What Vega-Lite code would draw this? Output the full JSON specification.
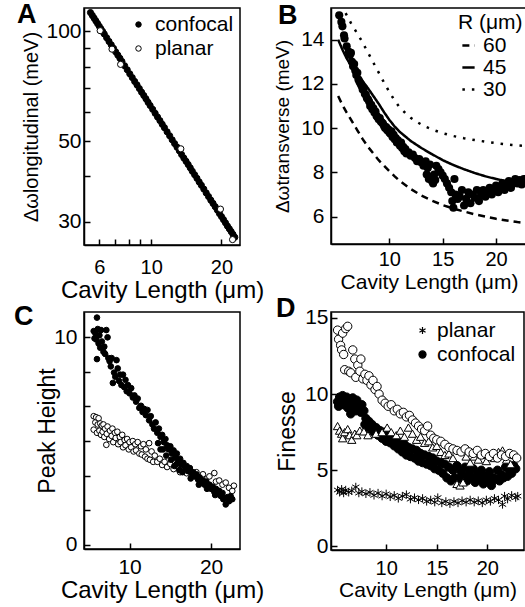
{
"$schema": "https://vega.github.io/schema/vega-lite/v6.json",
"background": "white",
"padding": {"left": 13, "top": 0, "right": 0, "bottom": 0},
"columns": 2,
"spacing": {"column": 91, "row": 67},
"bounds": "flush",
"resolve": {"scale": {"fill": "independent", "shape": "independent", "strokeDash": "independent", "stroke": "independent", "size": "independent", "x": "independent", "y": "independent"}, "legend": {"fill": "independent", "shape": "independent", "strokeDash": "independent", "stroke": "independent", "size": "independent"}},
"config": {
  "font": "Liberation Sans",
  "view": {"stroke": "black", "strokeWidth": 1.5},
  "axis": {"grid": false, "domainColor": "black", "domainWidth": 1.5, "tickColor": "black", "tickWidth": 1.5, "tickSize": -6, "labelFontSize": 21, "labelColor": "black", "titleFontSize": 23, "titleFontWeight": "normal", "titleColor": "black", "labelFlush": false, "labelOverlap": false},
  "legend": {"labelFontSize": 21, "labelColor": "black", "titleFontSize": 21, "titleFontWeight": "normal", "titleColor": "black", "symbolStrokeColor": "black"},
  "title": {"fontSize": 27, "fontWeight": "bold", "color": "black", "anchor": "start", "frame": "group", "baseline": "alphabetic"}
},
"datasets": {
  "A": [
    {"L":5.5,"v":112.7,"s":"confocal"},{"L":5.6,"v":110.7,"s":"confocal"},{"L":5.7,"v":108.8,"s":"confocal"},{"L":5.8,"v":106.9,"s":"confocal"},{"L":5.9,"v":105.1,"s":"confocal"},{"L":6.0,"v":103.3,"s":"confocal"},{"L":6.1,"v":101.6,"s":"confocal"},{"L":6.2,"v":100.0,"s":"confocal"},{"L":6.3,"v":98.4,"s":"confocal"},{"L":6.45,"v":96.1,"s":"confocal"},{"L":6.6,"v":93.9,"s":"confocal"},{"L":6.75,"v":91.9,"s":"confocal"},{"L":6.9,"v":89.9,"s":"confocal"},{"L":7.05,"v":87.9,"s":"confocal"},{"L":7.2,"v":86.1,"s":"confocal"},{"L":7.35,"v":84.4,"s":"confocal"},{"L":7.5,"v":82.7,"s":"confocal"},{"L":7.7,"v":80.5,"s":"confocal"},{"L":7.9,"v":78.5,"s":"confocal"},{"L":8.1,"v":76.5,"s":"confocal"},{"L":8.3,"v":74.7,"s":"confocal"},{"L":8.5,"v":72.9,"s":"confocal"},{"L":8.7,"v":71.3,"s":"confocal"},{"L":8.9,"v":69.7,"s":"confocal"},{"L":9.1,"v":68.1,"s":"confocal"},{"L":9.3,"v":66.7,"s":"confocal"},{"L":9.5,"v":65.3,"s":"confocal"},{"L":9.7,"v":63.9,"s":"confocal"},{"L":9.9,"v":62.6,"s":"confocal"},{"L":10.15,"v":61.1,"s":"confocal"},{"L":10.4,"v":59.6,"s":"confocal"},{"L":10.65,"v":58.2,"s":"confocal"},{"L":10.9,"v":56.9,"s":"confocal"},{"L":11.15,"v":55.6,"s":"confocal"},{"L":11.4,"v":54.4,"s":"confocal"},{"L":11.7,"v":53.0,"s":"confocal"},{"L":12.0,"v":51.7,"s":"confocal"},{"L":12.3,"v":50.4,"s":"confocal"},{"L":12.6,"v":49.2,"s":"confocal"},{"L":12.9,"v":48.1,"s":"confocal"},{"L":13.2,"v":47.0,"s":"confocal"},{"L":13.5,"v":45.9,"s":"confocal"},{"L":13.8,"v":44.9,"s":"confocal"},{"L":14.1,"v":44.0,"s":"confocal"},{"L":14.4,"v":43.1,"s":"confocal"},{"L":14.7,"v":42.2,"s":"confocal"},{"L":15.0,"v":41.3,"s":"confocal"},{"L":15.35,"v":40.4,"s":"confocal"},{"L":15.7,"v":39.5,"s":"confocal"},{"L":16.05,"v":38.6,"s":"confocal"},{"L":16.4,"v":37.8,"s":"confocal"},{"L":16.8,"v":36.9,"s":"confocal"},{"L":17.2,"v":36.0,"s":"confocal"},{"L":17.6,"v":35.2,"s":"confocal"},{"L":18.0,"v":34.4,"s":"confocal"},{"L":18.4,"v":33.7,"s":"confocal"},{"L":18.8,"v":33.0,"s":"confocal"},{"L":19.2,"v":32.3,"s":"confocal"},{"L":19.6,"v":31.6,"s":"confocal"},{"L":20.0,"v":31.0,"s":"confocal"},{"L":20.4,"v":30.4,"s":"confocal"},{"L":20.8,"v":29.8,"s":"confocal"},{"L":21.2,"v":29.2,"s":"confocal"},{"L":21.6,"v":28.7,"s":"confocal"},{"L":22.0,"v":28.2,"s":"confocal"},{"L":22.4,"v":27.7,"s":"confocal"},{"L":22.8,"v":27.2,"s":"confocal"},
    {"L":6.05,"v":100.5,"s":"planar"},{"L":6.8,"v":89.4,"s":"planar"},{"L":7.4,"v":81.2,"s":"planar"},{"L":13.4,"v":47.6,"s":"planar"},{"L":19.8,"v":32.5,"s":"planar"},{"L":22.3,"v":26.8,"s":"planar"}
  ],
  "Bc": [
    {"L":5.9,"v":15.2,"R":"30"},{"L":6.4,"v":14.75,"R":"30"},{"L":6.9,"v":14.35,"R":"30"},{"L":7.4,"v":13.95,"R":"30"},{"L":7.9,"v":13.5,"R":"30"},{"L":8.4,"v":13.05,"R":"30"},{"L":8.9,"v":12.6,"R":"30"},{"L":9.4,"v":12.15,"R":"30"},{"L":9.9,"v":11.72,"R":"30"},{"L":10.4,"v":11.32,"R":"30"},{"L":10.9,"v":10.98,"R":"30"},{"L":11.5,"v":10.68,"R":"30"},{"L":12.0,"v":10.47,"R":"30"},{"L":12.5,"v":10.3,"R":"30"},{"L":13.3,"v":10.08,"R":"30"},{"L":14.1,"v":9.92,"R":"30"},{"L":15.0,"v":9.77,"R":"30"},{"L":16.0,"v":9.64,"R":"30"},{"L":17.0,"v":9.54,"R":"30"},{"L":18.0,"v":9.46,"R":"30"},{"L":19.2,"v":9.37,"R":"30"},{"L":20.3,"v":9.3,"R":"30"},{"L":21.5,"v":9.24,"R":"30"},{"L":22.9,"v":9.18,"R":"30"},
    {"L":5.2,"v":14.0,"R":"45"},{"L":5.6,"v":13.55,"R":"45"},{"L":6.0,"v":13.15,"R":"45"},{"L":6.5,"v":12.75,"R":"45"},{"L":7.0,"v":12.4,"R":"45"},{"L":7.5,"v":12.12,"R":"45"},{"L":8.0,"v":11.8,"R":"45"},{"L":8.5,"v":11.45,"R":"45"},{"L":9.0,"v":11.1,"R":"45"},{"L":9.5,"v":10.72,"R":"45"},{"L":10.0,"v":10.37,"R":"45"},{"L":10.5,"v":10.07,"R":"45"},{"L":11.0,"v":9.82,"R":"45"},{"L":12.0,"v":9.42,"R":"45"},{"L":13.0,"v":9.1,"R":"45"},{"L":14.0,"v":8.82,"R":"45"},{"L":15.0,"v":8.55,"R":"45"},{"L":16.0,"v":8.33,"R":"45"},{"L":17.0,"v":8.14,"R":"45"},{"L":18.0,"v":7.97,"R":"45"},{"L":19.0,"v":7.82,"R":"45"},{"L":20.0,"v":7.7,"R":"45"},{"L":21.0,"v":7.6,"R":"45"},{"L":22.0,"v":7.5,"R":"45"},{"L":22.9,"v":7.42,"R":"45"},
    {"L":5.2,"v":11.45,"R":"60"},{"L":5.6,"v":11.05,"R":"60"},{"L":6.0,"v":10.7,"R":"60"},{"L":6.5,"v":10.3,"R":"60"},{"L":7.0,"v":9.9,"R":"60"},{"L":7.5,"v":9.5,"R":"60"},{"L":8.0,"v":9.15,"R":"60"},{"L":8.5,"v":8.85,"R":"60"},{"L":9.0,"v":8.55,"R":"60"},{"L":9.5,"v":8.3,"R":"60"},{"L":10.0,"v":8.05,"R":"60"},{"L":10.5,"v":7.82,"R":"60"},{"L":11.0,"v":7.6,"R":"60"},{"L":12.0,"v":7.25,"R":"60"},{"L":13.0,"v":6.95,"R":"60"},{"L":14.0,"v":6.72,"R":"60"},{"L":15.0,"v":6.52,"R":"60"},{"L":16.0,"v":6.36,"R":"60"},{"L":17.0,"v":6.23,"R":"60"},{"L":18.0,"v":6.1,"R":"60"},{"L":19.0,"v":6.0,"R":"60"},{"L":20.0,"v":5.9,"R":"60"},{"L":21.0,"v":5.82,"R":"60"},{"L":22.0,"v":5.75,"R":"60"},{"L":22.9,"v":5.7,"R":"60"}
  ],
  "Bp": [
    {"L":5.3,"v":15.1},{"L":5.5,"v":14.8},{"L":5.6,"v":14.6},{"L":5.75,"v":14.2},{"L":5.8,"v":14.05},{"L":6.0,"v":13.7},{"L":6.2,"v":13.45},{"L":6.3,"v":13.3},{"L":6.4,"v":13.4},{"L":6.5,"v":13.0},{"L":6.6,"v":12.8},{"L":6.7,"v":12.9},{"L":6.8,"v":12.6},{"L":6.9,"v":12.4},{"L":7.0,"v":12.5},{"L":7.1,"v":12.2},{"L":7.2,"v":12.1},{"L":7.3,"v":12.0},{"L":7.4,"v":11.9},{"L":7.5,"v":11.75},{"L":7.6,"v":11.8},{"L":7.7,"v":11.55},{"L":7.8,"v":11.5},{"L":7.9,"v":11.35},{"L":8.0,"v":11.3},{"L":8.1,"v":11.2},{"L":8.2,"v":11.0},{"L":8.3,"v":11.05},{"L":8.4,"v":10.85},{"L":8.5,"v":10.9},{"L":8.6,"v":10.7},{"L":8.7,"v":10.75},{"L":8.8,"v":10.55},{"L":8.9,"v":10.5},{"L":9.0,"v":10.4},{"L":9.1,"v":10.45},{"L":9.2,"v":10.3},{"L":9.3,"v":10.25},{"L":9.4,"v":10.2},{"L":9.5,"v":10.1},{"L":9.6,"v":10.0},{"L":9.7,"v":10.05},{"L":9.8,"v":9.9},{"L":9.9,"v":9.95},{"L":10.0,"v":9.8},{"L":10.1,"v":9.75},{"L":10.2,"v":9.85},{"L":10.3,"v":9.6},{"L":10.4,"v":9.7},{"L":10.5,"v":9.5},{"L":10.6,"v":9.55},{"L":10.7,"v":9.35},{"L":10.8,"v":9.45},{"L":10.9,"v":9.3},{"L":11.0,"v":9.2},{"L":11.1,"v":9.35},{"L":11.2,"v":9.1},{"L":11.3,"v":9.15},{"L":11.4,"v":8.95},{"L":11.5,"v":9.05},{"L":11.6,"v":8.85},{"L":11.8,"v":8.9},{"L":12.0,"v":8.75},{"L":12.2,"v":8.8},{"L":12.4,"v":8.65},{"L":12.6,"v":8.5},{"L":12.8,"v":8.6},{"L":13.0,"v":8.45},{"L":13.2,"v":8.3},{"L":13.4,"v":8.5},{"L":13.5,"v":7.9},{"L":13.6,"v":8.2},{"L":13.7,"v":7.7},{"L":13.8,"v":8.35},{"L":13.9,"v":7.8},{"L":14.0,"v":7.6},{"L":14.1,"v":7.5},{"L":14.2,"v":7.9},{"L":14.3,"v":7.65},{"L":14.4,"v":8.3},{"L":14.6,"v":8.15},{"L":14.8,"v":8.0},{"L":15.0,"v":7.85},{"L":15.2,"v":7.7},{"L":15.4,"v":7.5},{"L":15.6,"v":7.3},{"L":15.8,"v":7.1},{"L":15.9,"v":6.7},{"L":16.0,"v":6.4},{"L":16.1,"v":7.7},{"L":16.2,"v":7.0},{"L":16.4,"v":6.8},{"L":16.6,"v":6.9},{"L":16.8,"v":7.2},{"L":17.0,"v":6.5},{"L":17.2,"v":6.8},{"L":17.4,"v":7.1},{"L":17.6,"v":6.6},{"L":17.8,"v":7.0},{"L":18.0,"v":6.85},{"L":18.2,"v":7.2},{"L":18.4,"v":6.7},{"L":18.6,"v":7.0},{"L":18.8,"v":7.2},{"L":19.0,"v":6.9},{"L":19.2,"v":7.1},{"L":19.4,"v":7.3},{"L":19.6,"v":7.0},{"L":19.8,"v":7.2},{"L":20.0,"v":7.4},{"L":20.2,"v":7.1},{"L":20.4,"v":7.3},{"L":20.6,"v":7.5},{"L":20.8,"v":7.2},{"L":21.0,"v":7.4},{"L":21.2,"v":7.6},{"L":21.4,"v":7.3},{"L":21.6,"v":7.5},{"L":21.8,"v":7.7},{"L":22.0,"v":7.5},{"L":22.2,"v":7.65},{"L":22.4,"v":7.45},{"L":22.6,"v":7.7},{"L":22.8,"v":7.55},{"L":23.0,"v":7.6}
  ],
  "C": [
    {"L":5.6,"v":6.2,"s":"planar"},{"L":5.6,"v":5.55,"s":"planar"},{"L":5.8,"v":5.9,"s":"planar"},{"L":5.9,"v":6.15,"s":"planar"},{"L":6.0,"v":5.4,"s":"planar"},{"L":6.1,"v":5.8,"s":"planar"},{"L":6.2,"v":6.1,"s":"planar"},{"L":6.3,"v":5.5,"s":"planar"},{"L":6.4,"v":5.85,"s":"planar"},{"L":6.5,"v":5.3,"s":"planar"},{"L":6.6,"v":5.75,"s":"planar"},{"L":6.7,"v":5.45,"s":"planar"},{"L":6.8,"v":5.8,"s":"planar"},{"L":6.9,"v":5.2,"s":"planar"},{"L":7.0,"v":5.6,"s":"planar"},{"L":7.15,"v":4.82,"s":"planar"},{"L":7.2,"v":5.35,"s":"planar"},{"L":7.3,"v":5.7,"s":"planar"},{"L":7.5,"v":5.1,"s":"planar"},{"L":7.6,"v":5.5,"s":"planar"},{"L":7.8,"v":5.25,"s":"planar"},{"L":7.9,"v":5.6,"s":"planar"},{"L":8.0,"v":4.95,"s":"planar"},{"L":8.2,"v":5.4,"s":"planar"},{"L":8.3,"v":5.15,"s":"planar"},{"L":8.5,"v":5.45,"s":"planar"},{"L":8.6,"v":4.85,"s":"planar"},{"L":8.8,"v":5.2,"s":"planar"},{"L":8.9,"v":4.95,"s":"planar"},{"L":9.1,"v":5.3,"s":"planar"},{"L":9.2,"v":4.7,"s":"planar"},{"L":9.4,"v":5.05,"s":"planar"},{"L":9.5,"v":4.8,"s":"planar"},{"L":9.7,"v":5.1,"s":"planar"},{"L":9.9,"v":4.6,"s":"planar"},{"L":10.0,"v":4.95,"s":"planar"},{"L":10.2,"v":4.7,"s":"planar"},{"L":10.4,"v":5.0,"s":"planar"},{"L":10.5,"v":4.5,"s":"planar"},{"L":10.7,"v":4.85,"s":"planar"},{"L":10.8,"v":4.55,"s":"planar"},{"L":11.0,"v":4.95,"s":"planar"},{"L":11.2,"v":4.4,"s":"planar"},{"L":11.4,"v":4.75,"s":"planar"},{"L":11.5,"v":4.35,"s":"planar"},{"L":11.7,"v":4.85,"s":"planar"},{"L":11.9,"v":4.25,"s":"planar"},{"L":12.0,"v":4.6,"s":"planar"},{"L":12.2,"v":4.15,"s":"planar"},{"L":12.4,"v":4.9,"s":"planar"},{"L":12.5,"v":4.1,"s":"planar"},{"L":12.7,"v":4.5,"s":"planar"},{"L":12.9,"v":4.0,"s":"planar"},{"L":13.1,"v":4.3,"s":"planar"},{"L":13.4,"v":4.0,"s":"planar"},{"L":13.7,"v":4.15,"s":"planar"},{"L":14.0,"v":3.85,"s":"planar"},{"L":14.3,"v":4.0,"s":"planar"},{"L":14.6,"v":3.75,"s":"planar"},{"L":15.0,"v":3.9,"s":"planar"},{"L":15.4,"v":3.65,"s":"planar"},{"L":15.8,"v":3.8,"s":"planar"},{"L":16.2,"v":3.5,"s":"planar"},{"L":16.6,"v":3.7,"s":"planar"},{"L":17.0,"v":3.45,"s":"planar"},{"L":17.4,"v":3.6,"s":"planar"},{"L":17.8,"v":3.35,"s":"planar"},{"L":18.2,"v":3.5,"s":"planar"},{"L":18.6,"v":3.25,"s":"planar"},{"L":19.0,"v":3.4,"s":"planar"},{"L":19.4,"v":3.15,"s":"planar"},{"L":19.8,"v":3.3,"s":"planar"},{"L":20.4,"v":3.46,"s":"planar"},{"L":20.6,"v":3.05,"s":"planar"},{"L":21.0,"v":3.1,"s":"planar"},{"L":21.4,"v":2.9,"s":"planar"},{"L":21.8,"v":3.0,"s":"planar"},{"L":22.2,"v":2.75,"s":"planar"},{"L":22.6,"v":2.6,"s":"planar"},{"L":22.8,"v":2.85,"s":"planar"},
    {"L":5.6,"v":10.3,"s":"confocal"},{"L":5.7,"v":9.95,"s":"confocal"},{"L":5.8,"v":10.2,"s":"confocal"},{"L":5.9,"v":9.9,"s":"confocal"},{"L":6.0,"v":10.95,"s":"confocal"},{"L":6.0,"v":8.95,"s":"confocal"},{"L":6.1,"v":10.4,"s":"confocal"},{"L":6.2,"v":9.7,"s":"confocal"},{"L":6.3,"v":10.1,"s":"confocal"},{"L":6.4,"v":9.5,"s":"confocal"},{"L":6.5,"v":10.35,"s":"confocal"},{"L":6.6,"v":9.8,"s":"confocal"},{"L":6.8,"v":9.3,"s":"confocal"},{"L":6.9,"v":9.55,"s":"confocal"},{"L":7.0,"v":9.2,"s":"confocal"},{"L":7.15,"v":10.35,"s":"confocal"},{"L":7.3,"v":10.0,"s":"confocal"},{"L":7.4,"v":9.0,"s":"confocal"},{"L":7.55,"v":8.85,"s":"confocal"},{"L":7.7,"v":8.6,"s":"confocal"},{"L":7.8,"v":9.0,"s":"confocal"},{"L":7.95,"v":7.8,"s":"confocal"},{"L":8.1,"v":8.3,"s":"confocal"},{"L":8.25,"v":8.1,"s":"confocal"},{"L":8.4,"v":8.9,"s":"confocal"},{"L":8.55,"v":8.5,"s":"confocal"},{"L":8.7,"v":7.9,"s":"confocal"},{"L":8.85,"v":8.2,"s":"confocal"},{"L":9.0,"v":7.7,"s":"confocal"},{"L":9.2,"v":8.2,"s":"confocal"},{"L":9.35,"v":7.6,"s":"confocal"},{"L":9.5,"v":7.95,"s":"confocal"},{"L":9.65,"v":7.4,"s":"confocal"},{"L":9.8,"v":7.7,"s":"confocal"},{"L":10.0,"v":7.3,"s":"confocal"},{"L":10.2,"v":7.55,"s":"confocal"},{"L":10.4,"v":7.1,"s":"confocal"},{"L":10.6,"v":7.2,"s":"confocal"},{"L":10.8,"v":6.9,"s":"confocal"},{"L":11.0,"v":7.05,"s":"confocal"},{"L":11.2,"v":6.6,"s":"confocal"},{"L":11.4,"v":6.7,"s":"confocal"},{"L":11.6,"v":6.4,"s":"confocal"},{"L":11.8,"v":6.55,"s":"confocal"},{"L":12.0,"v":6.25,"s":"confocal"},{"L":12.2,"v":6.5,"s":"confocal"},{"L":12.4,"v":6.0,"s":"confocal"},{"L":12.6,"v":6.2,"s":"confocal"},{"L":12.8,"v":5.8,"s":"confocal"},{"L":13.0,"v":5.6,"s":"confocal"},{"L":13.2,"v":5.9,"s":"confocal"},{"L":13.4,"v":5.4,"s":"confocal"},{"L":13.5,"v":4.9,"s":"confocal"},{"L":13.6,"v":5.6,"s":"confocal"},{"L":13.8,"v":5.2,"s":"confocal"},{"L":13.8,"v":4.6,"s":"confocal"},{"L":14.0,"v":5.3,"s":"confocal"},{"L":14.1,"v":4.6,"s":"confocal"},{"L":14.2,"v":4.95,"s":"confocal"},{"L":14.4,"v":5.1,"s":"confocal"},{"L":14.5,"v":4.3,"s":"confocal"},{"L":14.6,"v":4.8,"s":"confocal"},{"L":14.8,"v":4.6,"s":"confocal"},{"L":15.0,"v":4.75,"s":"confocal"},{"L":15.1,"v":4.1,"s":"confocal"},{"L":15.2,"v":4.4,"s":"confocal"},{"L":15.4,"v":4.55,"s":"confocal"},{"L":15.5,"v":3.8,"s":"confocal"},{"L":15.6,"v":4.2,"s":"confocal"},{"L":15.8,"v":4.4,"s":"confocal"},{"L":15.8,"v":3.9,"s":"confocal"},{"L":16.0,"v":4.0,"s":"confocal"},{"L":16.1,"v":3.6,"s":"confocal"},{"L":16.2,"v":4.15,"s":"confocal"},{"L":16.4,"v":3.85,"s":"confocal"},{"L":16.5,"v":3.5,"s":"confocal"},{"L":16.6,"v":3.95,"s":"confocal"},{"L":16.8,"v":3.7,"s":"confocal"},{"L":17.0,"v":3.8,"s":"confocal"},{"L":17.2,"v":3.55,"s":"confocal"},{"L":17.4,"v":3.7,"s":"confocal"},{"L":17.5,"v":3.2,"s":"confocal"},{"L":17.6,"v":3.45,"s":"confocal"},{"L":17.8,"v":3.5,"s":"confocal"},{"L":18.0,"v":3.3,"s":"confocal"},{"L":18.2,"v":3.4,"s":"confocal"},{"L":18.4,"v":3.15,"s":"confocal"},{"L":18.5,"v":2.9,"s":"confocal"},{"L":18.6,"v":3.25,"s":"confocal"},{"L":18.8,"v":3.0,"s":"confocal"},{"L":19.0,"v":3.1,"s":"confocal"},{"L":19.2,"v":2.9,"s":"confocal"},{"L":19.4,"v":3.05,"s":"confocal"},{"L":19.5,"v":2.7,"s":"confocal"},{"L":19.6,"v":2.75,"s":"confocal"},{"L":19.8,"v":2.9,"s":"confocal"},{"L":20.0,"v":2.7,"s":"confocal"},{"L":20.2,"v":2.8,"s":"confocal"},{"L":20.4,"v":2.55,"s":"confocal"},{"L":20.5,"v":2.4,"s":"confocal"},{"L":20.6,"v":2.7,"s":"confocal"},{"L":20.8,"v":2.45,"s":"confocal"},{"L":21.0,"v":2.6,"s":"confocal"},{"L":21.2,"v":2.35,"s":"confocal"},{"L":21.4,"v":2.5,"s":"confocal"},{"L":21.5,"v":2.2,"s":"confocal"},{"L":21.6,"v":2.25,"s":"confocal"},{"L":21.8,"v":1.95,"s":"confocal"},{"L":22.0,"v":2.3,"s":"confocal"},{"L":22.2,"v":2.1,"s":"confocal"},{"L":22.4,"v":2.35,"s":"confocal"},{"L":22.6,"v":2.2,"s":"confocal"}
  ],
  "D": [
    {"L":5.2,"v":9.5,"s":"confocal"},{"L":5.3,"v":9.2,"s":"confocal"},{"L":5.4,"v":9.8,"s":"confocal"},{"L":5.5,"v":9.4,"s":"confocal"},{"L":5.7,"v":9.9,"s":"confocal"},{"L":5.8,"v":9.3,"s":"confocal"},{"L":5.9,"v":9.6,"s":"confocal"},{"L":6.1,"v":9.8,"s":"confocal"},{"L":6.2,"v":9.1,"s":"confocal"},{"L":6.3,"v":9.5,"s":"confocal"},{"L":6.5,"v":8.7,"s":"confocal"},{"L":6.6,"v":9.0,"s":"confocal"},{"L":6.7,"v":9.75,"s":"confocal"},{"L":6.8,"v":9.3,"s":"confocal"},{"L":7.0,"v":8.9,"s":"confocal"},{"L":7.1,"v":9.6,"s":"confocal"},{"L":7.3,"v":9.2,"s":"confocal"},{"L":7.5,"v":8.8,"s":"confocal"},{"L":7.6,"v":9.3,"s":"confocal"},{"L":7.8,"v":8.9,"s":"confocal"},{"L":7.9,"v":8.0,"s":"confocal"},{"L":8.0,"v":8.4,"s":"confocal"},{"L":8.1,"v":7.8,"s":"confocal"},{"L":8.3,"v":8.2,"s":"confocal"},{"L":8.5,"v":7.7,"s":"confocal"},{"L":8.6,"v":8.0,"s":"confocal"},{"L":8.8,"v":7.5,"s":"confocal"},{"L":9.0,"v":7.8,"s":"confocal"},{"L":9.2,"v":7.3,"s":"confocal"},{"L":9.4,"v":7.6,"s":"confocal"},{"L":9.6,"v":7.1,"s":"confocal"},{"L":9.8,"v":7.5,"s":"confocal"},{"L":10.0,"v":6.9,"s":"confocal"},{"L":10.2,"v":7.3,"s":"confocal"},{"L":10.4,"v":6.8,"s":"confocal"},{"L":10.6,"v":7.1,"s":"confocal"},{"L":10.8,"v":6.6,"s":"confocal"},{"L":11.0,"v":7.0,"s":"confocal"},{"L":11.2,"v":6.4,"s":"confocal"},{"L":11.4,"v":6.8,"s":"confocal"},{"L":11.6,"v":6.2,"s":"confocal"},{"L":11.8,"v":6.7,"s":"confocal"},{"L":12.0,"v":6.0,"s":"confocal"},{"L":12.2,"v":6.5,"s":"confocal"},{"L":12.4,"v":5.9,"s":"confocal"},{"L":12.6,"v":6.4,"s":"confocal"},{"L":12.8,"v":5.8,"s":"confocal"},{"L":13.0,"v":6.3,"s":"confocal"},{"L":13.2,"v":5.6,"s":"confocal"},{"L":13.4,"v":6.1,"s":"confocal"},{"L":13.6,"v":5.5,"s":"confocal"},{"L":13.8,"v":6.0,"s":"confocal"},{"L":14.0,"v":5.4,"s":"confocal"},{"L":14.2,"v":5.9,"s":"confocal"},{"L":14.4,"v":5.3,"s":"confocal"},{"L":14.6,"v":5.8,"s":"confocal"},{"L":14.8,"v":5.1,"s":"confocal"},{"L":15.0,"v":5.6,"s":"confocal"},{"L":15.2,"v":5.0,"s":"confocal"},{"L":15.4,"v":5.5,"s":"confocal"},{"L":15.6,"v":4.8,"s":"confocal"},{"L":15.8,"v":5.4,"s":"confocal"},{"L":16.0,"v":4.5,"s":"confocal"},{"L":16.2,"v":5.2,"s":"confocal"},{"L":16.4,"v":4.3,"s":"confocal"},{"L":16.6,"v":5.0,"s":"confocal"},{"L":16.8,"v":4.5,"s":"confocal"},{"L":17.0,"v":5.3,"s":"confocal"},{"L":17.2,"v":4.4,"s":"confocal"},{"L":17.4,"v":4.9,"s":"confocal"},{"L":17.6,"v":4.6,"s":"confocal"},{"L":17.8,"v":5.2,"s":"confocal"},{"L":18.0,"v":4.3,"s":"confocal"},{"L":18.2,"v":4.8,"s":"confocal"},{"L":18.4,"v":4.5,"s":"confocal"},{"L":18.6,"v":5.1,"s":"confocal"},{"L":18.8,"v":4.2,"s":"confocal"},{"L":19.0,"v":4.7,"s":"confocal"},{"L":19.2,"v":4.4,"s":"confocal"},{"L":19.4,"v":5.0,"s":"confocal"},{"L":19.6,"v":4.1,"s":"confocal"},{"L":19.8,"v":4.6,"s":"confocal"},{"L":20.0,"v":4.3,"s":"confocal"},{"L":20.2,"v":4.9,"s":"confocal"},{"L":20.4,"v":4.0,"s":"confocal"},{"L":20.6,"v":4.5,"s":"confocal"},{"L":20.8,"v":4.4,"s":"confocal"},{"L":21.0,"v":5.0,"s":"confocal"},{"L":21.2,"v":4.3,"s":"confocal"},{"L":21.4,"v":4.7,"s":"confocal"},{"L":21.6,"v":4.5,"s":"confocal"},{"L":21.8,"v":5.2,"s":"confocal"},{"L":22.0,"v":4.6,"s":"confocal"},{"L":22.2,"v":5.0,"s":"confocal"},{"L":22.4,"v":4.8,"s":"confocal"},{"L":22.6,"v":5.3,"s":"confocal"},{"L":22.8,"v":5.1,"s":"confocal"},
    {"L":5.2,"v":7.9,"s":"triangle"},{"L":5.4,"v":7.6,"s":"triangle"},{"L":5.6,"v":7.4,"s":"triangle"},{"L":5.7,"v":7.1,"s":"triangle"},{"L":5.9,"v":7.5,"s":"triangle"},{"L":6.2,"v":7.7,"s":"triangle"},{"L":6.4,"v":7.3,"s":"triangle"},{"L":6.6,"v":7.0,"s":"triangle"},{"L":6.9,"v":7.4,"s":"triangle"},{"L":7.1,"v":7.3,"s":"triangle"},{"L":7.4,"v":7.6,"s":"triangle"},{"L":7.8,"v":7.55,"s":"triangle"},{"L":8.2,"v":7.3,"s":"triangle"},{"L":9.0,"v":7.4,"s":"triangle"},{"L":9.6,"v":7.5,"s":"triangle"},{"L":10.1,"v":7.8,"s":"triangle"},{"L":10.5,"v":7.5,"s":"triangle"},{"L":11.0,"v":7.3,"s":"triangle"},{"L":11.4,"v":7.6,"s":"triangle"},{"L":11.8,"v":7.2,"s":"triangle"},{"L":12.2,"v":7.8,"s":"triangle"},{"L":12.6,"v":7.4,"s":"triangle"},{"L":13.0,"v":7.0,"s":"triangle"},{"L":13.4,"v":7.2,"s":"triangle"},{"L":13.8,"v":6.8,"s":"triangle"},{"L":14.2,"v":6.9,"s":"triangle"},{"L":14.6,"v":6.5,"s":"triangle"},{"L":15.0,"v":6.6,"s":"triangle"},{"L":15.4,"v":6.2,"s":"triangle"},{"L":15.8,"v":6.0,"s":"triangle"},{"L":16.2,"v":6.1,"s":"triangle"},{"L":16.6,"v":5.8,"s":"triangle"},{"L":17.0,"v":4.1,"s":"triangle"},{"L":17.3,"v":4.0,"s":"triangle"},{"L":17.6,"v":4.2,"s":"triangle"},{"L":17.9,"v":5.9,"s":"triangle"},{"L":18.3,"v":5.5,"s":"triangle"},{"L":18.7,"v":5.9,"s":"triangle"},{"L":19.1,"v":5.7,"s":"triangle"},{"L":19.5,"v":6.0,"s":"triangle"},{"L":19.9,"v":5.6,"s":"triangle"},{"L":20.3,"v":6.0,"s":"triangle"},{"L":20.7,"v":5.8,"s":"triangle"},{"L":21.1,"v":6.2,"s":"triangle"},{"L":21.5,"v":6.3,"s":"triangle"},{"L":21.9,"v":5.7,"s":"triangle"},{"L":22.3,"v":5.4,"s":"triangle"},{"L":22.7,"v":6.0,"s":"triangle"},
    {"L":5.2,"v":14.2,"s":"open"},{"L":5.3,"v":13.6,"s":"open"},{"L":5.5,"v":13.2,"s":"open"},{"L":5.6,"v":12.9,"s":"open"},{"L":5.7,"v":14.0,"s":"open"},{"L":5.8,"v":12.6,"s":"open"},{"L":5.9,"v":11.6,"s":"open"},{"L":6.0,"v":14.3,"s":"open"},{"L":6.2,"v":14.45,"s":"open"},{"L":6.3,"v":11.5,"s":"open"},{"L":6.5,"v":11.4,"s":"open"},{"L":6.7,"v":12.9,"s":"open"},{"L":6.9,"v":12.3,"s":"open"},{"L":7.0,"v":11.1,"s":"open"},{"L":7.2,"v":11.9,"s":"open"},{"L":7.4,"v":11.5,"s":"open"},{"L":7.5,"v":12.3,"s":"open"},{"L":7.7,"v":11.0,"s":"open"},{"L":7.9,"v":11.3,"s":"open"},{"L":8.1,"v":10.9,"s":"open"},{"L":8.3,"v":11.2,"s":"open"},{"L":8.5,"v":10.6,"s":"open"},{"L":8.7,"v":10.9,"s":"open"},{"L":8.9,"v":10.3,"s":"open"},{"L":9.1,"v":10.5,"s":"open"},{"L":9.3,"v":10.0,"s":"open"},{"L":9.6,"v":9.6,"s":"open"},{"L":9.9,"v":9.4,"s":"open"},{"L":10.2,"v":9.2,"s":"open"},{"L":10.5,"v":9.3,"s":"open"},{"L":10.8,"v":8.9,"s":"open"},{"L":11.1,"v":9.0,"s":"open"},{"L":11.4,"v":8.7,"s":"open"},{"L":11.7,"v":8.8,"s":"open"},{"L":12.0,"v":8.5,"s":"open"},{"L":12.3,"v":8.6,"s":"open"},{"L":12.6,"v":8.3,"s":"open"},{"L":12.9,"v":8.1,"s":"open"},{"L":13.2,"v":7.9,"s":"open"},{"L":13.5,"v":7.7,"s":"open"},{"L":13.8,"v":7.6,"s":"open"},{"L":14.1,"v":7.9,"s":"open"},{"L":14.4,"v":7.3,"s":"open"},{"L":14.7,"v":7.1,"s":"open"},{"L":15.0,"v":7.0,"s":"open"},{"L":15.4,"v":6.9,"s":"open"},{"L":15.8,"v":6.7,"s":"open"},{"L":16.2,"v":6.5,"s":"open"},{"L":16.6,"v":6.4,"s":"open"},{"L":17.0,"v":6.3,"s":"open"},{"L":17.4,"v":6.2,"s":"open"},{"L":17.8,"v":6.4,"s":"open"},{"L":18.2,"v":6.2,"s":"open"},{"L":18.6,"v":6.1,"s":"open"},{"L":19.0,"v":6.3,"s":"open"},{"L":19.4,"v":6.0,"s":"open"},{"L":19.8,"v":6.1,"s":"open"},{"L":20.2,"v":5.9,"s":"open"},{"L":20.6,"v":6.1,"s":"open"},{"L":21.0,"v":5.8,"s":"open"},{"L":21.4,"v":6.0,"s":"open"},{"L":21.8,"v":5.9,"s":"open"},{"L":22.2,"v":6.1,"s":"open"},{"L":22.6,"v":6.0,"s":"open"},{"L":22.9,"v":5.8,"s":"open"},
    {"L":5.2,"v":3.7,"s":"planar"},{"L":5.4,"v":3.55,"s":"planar"},{"L":5.6,"v":3.75,"s":"planar"},{"L":5.8,"v":3.5,"s":"planar"},{"L":6.0,"v":3.7,"s":"planar"},{"L":6.3,"v":3.55,"s":"planar"},{"L":6.6,"v":3.65,"s":"planar"},{"L":7.0,"v":3.9,"s":"planar"},{"L":7.3,"v":3.5,"s":"planar"},{"L":7.6,"v":3.6,"s":"planar"},{"L":8.0,"v":3.45,"s":"planar"},{"L":8.4,"v":3.55,"s":"planar"},{"L":8.8,"v":3.35,"s":"planar"},{"L":9.2,"v":3.5,"s":"planar"},{"L":9.6,"v":3.3,"s":"planar"},{"L":10.0,"v":3.45,"s":"planar"},{"L":10.4,"v":3.25,"s":"planar"},{"L":10.8,"v":3.35,"s":"planar"},{"L":11.2,"v":3.15,"s":"planar"},{"L":11.6,"v":3.3,"s":"planar"},{"L":12.0,"v":3.4,"s":"planar"},{"L":12.4,"v":3.1,"s":"planar"},{"L":12.8,"v":3.2,"s":"planar"},{"L":13.2,"v":3.05,"s":"planar"},{"L":13.6,"v":3.15,"s":"planar"},{"L":14.0,"v":2.95,"s":"planar"},{"L":14.4,"v":3.05,"s":"planar"},{"L":14.8,"v":2.9,"s":"planar"},{"L":15.1,"v":3.2,"s":"planar"},{"L":15.5,"v":2.85,"s":"planar"},{"L":15.9,"v":2.95,"s":"planar"},{"L":16.3,"v":2.8,"s":"planar"},{"L":16.7,"v":2.95,"s":"planar"},{"L":17.1,"v":2.85,"s":"planar"},{"L":17.5,"v":3.0,"s":"planar"},{"L":17.9,"v":2.9,"s":"planar"},{"L":18.3,"v":3.05,"s":"planar"},{"L":18.7,"v":2.9,"s":"planar"},{"L":19.1,"v":3.0,"s":"planar"},{"L":19.5,"v":2.85,"s":"planar"},{"L":19.9,"v":3.05,"s":"planar"},{"L":20.3,"v":2.95,"s":"planar"},{"L":20.7,"v":3.15,"s":"planar"},{"L":21.1,"v":3.05,"s":"planar"},{"L":21.5,"v":2.75,"s":"planar"},{"L":21.7,"v":3.3,"s":"planar"},{"L":22.0,"v":3.1,"s":"planar"},{"L":22.4,"v":3.35,"s":"planar"},{"L":22.8,"v":3.2,"s":"planar"},{"L":23.0,"v":3.3,"s":"planar"}
  ]
},
"concat": [
  {
    "width": 156, "height": 237,
    "title": {"text": "A", "dx": -67, "offset": -22},
    "data": {"name": "A"},
    "mark": {"type": "point", "shape": "circle", "filled": true, "stroke": "black", "strokeWidth": 1, "opacity": 1, "size": 38},
    "encoding": {
      "x": {"field": "L", "type": "quantitative", "scale": {"type": "log", "domain": [5.16, 24], "nice": false, "zero": false},
            "axis": {"values": [6,7,8,9,10,20], "format": "d", "labelExpr": "(datum.value==6||datum.value==10||datum.value==20)?datum.label:''", "labelPadding": 18, "labelFontSize": 20, "titlePadding": 1, "titleFontSize": 24, "title": "Cavity Length (μm)"}},
      "y": {"field": "v", "type": "quantitative", "scale": {"type": "log", "domain": [25.9, 116], "nice": false, "zero": false},
            "axis": {"values": [30,40,50,60,70,80,90,100], "format": "d", "labelExpr": "(datum.value==30||datum.value==50||datum.value==100)?datum.label:''", "labelPadding": 9, "titlePadding": 4, "titleFontSize": 20, "title": "Δωlongitudinal (meV)"}},
      "fill": {"field": "s", "type": "nominal", "scale": {"domain": ["confocal", "planar"], "range": ["black", "white"]},
               "legend": {"title": null, "orient": "top-right", "offset": 6, "symbolSize": 30, "symbolStrokeWidth": 1, "symbolStrokeColor": "black", "rowPadding": 2, "labelOffset": 6, "padding": 0}}
    }
  },
  {
    "width": 196, "height": 236,
    "title": {"text": "B", "dx": -53, "offset": -22},
    "layer": [
      {
        "data": {"name": "Bc"},
        "mark": {"type": "line", "color": "black", "strokeWidth": 2.5, "clip": true},
        "encoding": {
          "x": {"field": "L", "type": "quantitative", "scale": {"domain": [4.53, 22.9], "nice": false, "zero": false},
                "axis": {"values": [10, 15, 20], "labelPadding": 11, "labelFontSize": 20, "titlePadding": 2, "titleFontSize": 21, "title": "Cavity Length (μm)"}},
          "y": {"field": "v", "type": "quantitative", "scale": {"domain": [4.76, 15.43], "nice": false, "zero": false},
                "axis": {"values": [6, 8, 10, 12, 14], "labelPadding": 13, "titlePadding": 8, "titleFontSize": 19, "title": "Δωtransverse (meV)"}},
          "strokeDash": {"field": "R", "type": "nominal", "scale": {"domain": ["60", "45", "30"], "range": [[7, 5], [1, 0], [2.5, 7]]},
                         "legend": {"title": "R (μm)", "orient": "top-right", "offset": 4, "symbolType": "stroke", "symbolStrokeWidth": 2.5, "symbolSize": 150, "symbolStrokeColor": "black", "rowPadding": 0, "titlePadding": 2, "padding": 0}}
        }
      },
      {
        "data": {"name": "Bp"},
        "mark": {"type": "point", "shape": "circle", "filled": true, "color": "black", "size": 66, "opacity": 1, "clip": true},
        "encoding": {
          "x": {"field": "L", "type": "quantitative"},
          "y": {"field": "v", "type": "quantitative"}
        }
      }
    ]
  },
  {
    "width": 156, "height": 237,
    "title": {"text": "C", "dx": -70, "offset": -19},
    "data": {"name": "C"},
    "mark": {"type": "point", "shape": "circle", "filled": true, "stroke": "black", "strokeWidth": 1, "opacity": 1, "size": 32},
    "encoding": {
      "x": {"field": "L", "type": "quantitative", "scale": {"domain": [4.41, 23.55], "nice": false, "zero": false},
            "axis": {"values": [10, 20], "labelPadding": 13, "titlePadding": 1, "titleFontSize": 24, "title": "Cavity Length (μm)"}},
      "y": {"field": "v", "type": "quantitative", "scale": {"domain": [-0.2, 11.22], "nice": false, "zero": false},
            "axis": {"values": [0, 1.6667, 3.3333, 5, 6.6667, 8.3333, 10], "labelExpr": "(datum.value==0||datum.value==10)?datum.label:''", "labelPadding": 13, "titlePadding": -6, "title": "Peak Height"}},
      "fill": {"field": "s", "type": "nominal", "scale": {"domain": ["confocal", "planar"], "range": ["black", "white"]}, "legend": null}
    }
  },
  {
    "width": 193, "height": 238,
    "title": {"text": "D", "dx": -55, "offset": -16},
    "data": {"name": "D"},
    "mark": {"type": "point", "filled": true, "strokeWidth": 1, "opacity": 1, "size": 70},
    "encoding": {
      "x": {"field": "L", "type": "quantitative", "scale": {"domain": [4.55, 23.62], "nice": false, "zero": false},
            "axis": {"values": [10, 15, 20], "labelPadding": 14, "labelFontSize": 20, "titlePadding": 1, "titleFontSize": 21, "title": "Cavity Length (μm)"}},
      "y": {"field": "v", "type": "quantitative", "scale": {"domain": [-0.24, 15.39], "nice": false, "zero": false},
            "axis": {"values": [0, 5, 10, 15], "labelPadding": 9, "titlePadding": 5, "title": "Finesse"}},
      "shape": {"field": "s", "type": "nominal", "scale": {"domain": ["planar", "confocal", "open", "triangle"], "range": ["M0,-1L0,1M-0.866,-0.5L0.866,0.5M-0.866,0.5L0.866,-0.5", "circle", "circle", "triangle-up"]},
                "legend": {"title": null, "orient": "top-right", "offset": 8, "values": ["planar", "confocal"], "symbolSize": 50, "symbolStrokeWidth": 1.2, "rowPadding": 2, "padding": 0}},
      "fill": {"field": "s", "type": "nominal", "scale": {"domain": ["planar", "confocal", "open", "triangle"], "range": ["white", "black", "white", "white"]},
               "legend": {"title": null, "orient": "top-right", "offset": 8, "values": ["planar", "confocal"], "symbolSize": 50, "symbolStrokeWidth": 1.2, "rowPadding": 2, "padding": 0}},
      "stroke": {"field": "s", "type": "nominal", "scale": {"domain": ["planar", "confocal", "open", "triangle"], "range": ["black", "black", "black", "black"]},
               "legend": {"title": null, "orient": "top-right", "offset": 8, "values": ["planar", "confocal"], "symbolSize": 50, "symbolStrokeWidth": 1.2, "rowPadding": 2, "padding": 0}}
    }
  }
]
}
